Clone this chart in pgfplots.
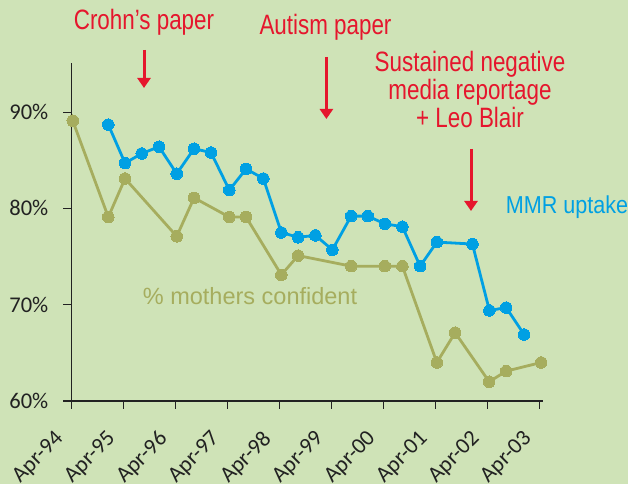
\documentclass[border=0pt]{standalone}
\usepackage{pgfplots}
\pgfplotsset{compat=1.18}
\usepackage{fontspec}
\usetikzlibrary{arrows.meta}
\setmainfont{Carlito}
\newfontfamily\condfont[FakeStretch=0.8]{Liberation Sans}
\newfontfamily\condB[FakeStretch=0.88]{Liberation Sans}
\newfontfamily\lsans{Liberation Sans}
\definecolor{bg}{HTML}{CFE3B7}
\definecolor{mmrblue}{HTML}{00A0E3}
\definecolor{momgreen}{HTML}{A6AD5E}
\definecolor{annred}{HTML}{E5162D}
\definecolor{axisgray}{HTML}{222222}

\pgfplotstableread{
x y
0.713 88.7
1.035 84.7
1.356 85.7
1.688 86.4
2.029 83.6
2.362 86.2
2.688 85.8
3.040 81.9
3.362 84.1
3.694 83.1
4.040 77.5
4.362 77.0
4.694 77.2
5.021 75.7
5.381 79.2
5.702 79.2
6.029 78.4
6.367 78.1
6.708 74.0
7.029 76.5
7.713 76.3
8.040 69.4
8.362 69.7
8.708 66.9
}\mmrdata

\pgfplotstableread{
x y
0.03 89.1
0.713 79.1
1.035 83.1
2.029 77.1
2.362 81.1
3.040 79.1
3.362 79.1
4.040 73.1
4.362 75.1
5.381 74.0
6.029 74.0
6.367 74.0
7.029 64.0
7.381 67.1
8.035 62.0
8.362 63.1
9.035 64.0
}\momdata

\begin{document}
\begin{tikzpicture}[x=1pt,y=1pt]
\fill[bg] (0,0) rectangle (628,484);
\begin{axis}[
  at={(71.2pt,83pt)}, anchor=south west,
  scale only axis,
  width=471.8pt, height=338pt,
  xmin=0, xmax=9.07, ymin=60, ymax=95.1,
  axis x line*=bottom, axis y line*=left,
  axis line style={-, line width=1.2pt, axisgray},
  tick style={line width=1.2pt, axisgray},
  tick align=outside,
  major tick length=7.7pt,
  xtick={0,1,2,3,4,5,6,7,8,9},
  xticklabels={Apr-94,Apr-95,Apr-96,Apr-97,Apr-98,Apr-99,Apr-00,Apr-01,Apr-02,Apr-03},
  ytick={60,70,80,90},
  yticklabels={60\%,70\%,80\%,90\%},
  xticklabel style={font=\fontsize{22.5}{26}\selectfont, text=axisgray, anchor=east, inner sep=0pt, xshift=-11pt, yshift=-27pt, rotate=45},
  yticklabel style={font=\fontsize{22.5}{26}\selectfont, text=axisgray, anchor=east, inner sep=0pt, xshift=-15pt},
  clip=false,
]
\addplot[color=momgreen, line width=2.8pt, mark=*, mark size=5.8pt, mark options={fill=momgreen, draw=momgreen, line width=0pt}] table[x=x,y=y] {\momdata};
\addplot[color=mmrblue, line width=2.8pt, mark=*, mark size=5.8pt, mark options={fill=mmrblue, draw=mmrblue, line width=0pt}] table[x=x,y=y] {\mmrdata};
\end{axis}
% annotations
\node[anchor=base, inner sep=0pt, text=annred, font=\condfont\fontsize{28}{30}\selectfont] at (144,454) {Crohn’s paper};
\node[anchor=base, inner sep=0pt, text=annred, font=\condfont\fontsize{28}{30}\selectfont] at (325.5,449) {Autism paper};
\node[anchor=base, inner sep=0pt, text=annred, font=\condfont\fontsize{28}{30}\selectfont] at (470,412) {Sustained negative};
\node[anchor=base, inner sep=0pt, text=annred, font=\condfont\fontsize{28}{30}\selectfont] at (470,384) {media reportage};
\node[anchor=base, inner sep=0pt, text=annred, font=\condfont\fontsize{28}{30}\selectfont] at (470,356) {+ Leo Blair};
\draw[annred, line width=3pt, -{Triangle[width=13pt,length=10pt]}] (144,434) -- (144,396);
\draw[annred, line width=3pt, -{Triangle[width=13pt,length=10pt]}] (326.4,427) -- (326.4,365);
\draw[annred, line width=3pt, -{Triangle[width=13pt,length=10pt]}] (471,335) -- (471,273);
\node[anchor=base west, inner sep=0pt, text=mmrblue, font=\condB\fontsize{24.5}{26}\selectfont] at (505.7,270) {MMR uptake};
\node[anchor=base west, inner sep=0pt, text=momgreen, font=\lsans\fontsize{23.5}{26}\selectfont] at (142.7,179) {\% mothers confident};
\pgfresetboundingbox
\path (0,0) rectangle (628,484);
\end{tikzpicture}
\end{document}
